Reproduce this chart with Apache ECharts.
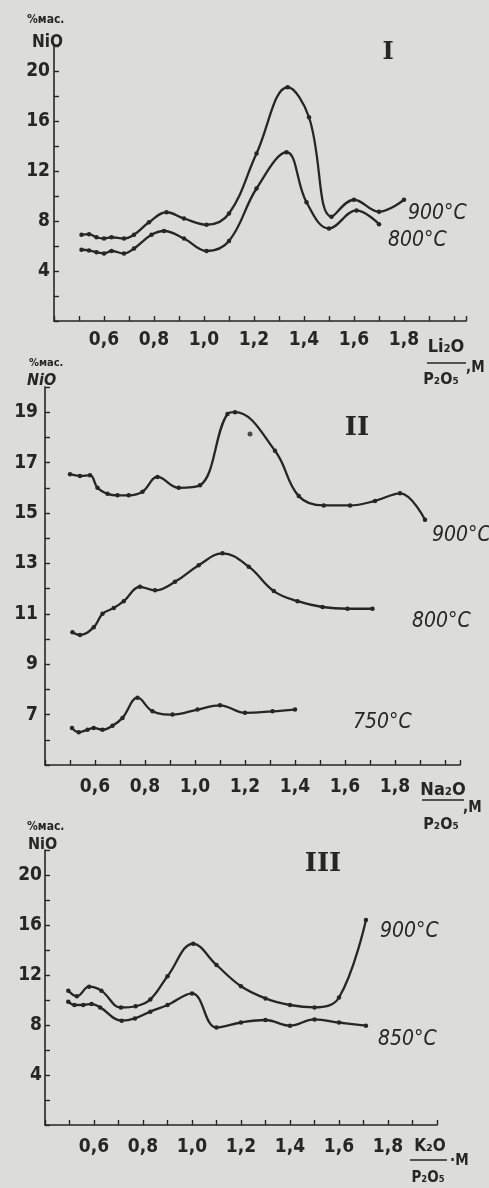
<!DOCTYPE html>
<html><head><meta charset="utf-8">
<script src="https://cdn.jsdelivr.net/npm/echarts@6/dist/echarts.min.js"></script>
<style>html,body{margin:0;padding:0;background:#dcdcda}#c{width:489px;height:1188px}</style>
</head><body><div id="c"></div>
<script>
// ---- data (x = Me2O/P2O5 molar ratio, y = NiO, % mass) ----
const xTickLabels = ['0,6','0,8','1,0','1,2','1,4','1,6','1,8'];
const yLabelsI = [4, 8, 12, 16, 20];
const yLabelsII = [7, 9, 11, 13, 15, 17, 19];
const yLabelsIII = [4, 8, 12, 16, 20];

// Panel I : Li2O/P2O5
const li900 = [[0.51,6.9],[0.54,6.95],[0.57,6.7],[0.60,6.6],[0.63,6.7],[0.68,6.6],[0.72,6.9],[0.78,7.9],[0.85,8.7],[0.92,8.2],[1.01,7.7],[1.10,8.6],[1.21,13.4],[1.335,18.7],[1.42,16.3],[1.51,8.35],[1.60,9.7],[1.70,8.75],[1.80,9.7]];
const li800 = [[0.51,5.7],[0.54,5.65],[0.57,5.5],[0.60,5.4],[0.63,5.6],[0.68,5.4],[0.72,5.8],[0.79,6.9],[0.84,7.2],[0.92,6.6],[1.01,5.6],[1.10,6.4],[1.21,10.6],[1.33,13.5],[1.41,9.5],[1.50,7.4],[1.61,8.85],[1.70,7.75]];

// Panel II : Na2O/P2O5
const na900 = [[0.50,16.54],[0.54,16.47],[0.58,16.5],[0.61,16.0],[0.65,15.76],[0.69,15.7],[0.735,15.7],[0.79,15.84],[0.85,16.43],[0.935,16.0],[1.02,16.1],[1.13,18.93],[1.16,19.0],[1.32,17.47],[1.415,15.67],[1.515,15.3],[1.62,15.3],[1.72,15.48],[1.82,15.78],[1.92,14.73]];
const na900Extra = [[1.22,18.13]];
const na800 = [[0.51,10.27],[0.54,10.16],[0.595,10.47],[0.63,11.0],[0.675,11.23],[0.715,11.5],[0.78,12.07],[0.84,11.93],[0.92,12.27],[1.015,12.93],[1.11,13.4],[1.215,12.87],[1.315,11.9],[1.41,11.5],[1.51,11.27],[1.61,11.2],[1.71,11.2]];
const na750 = [[0.508,6.47],[0.535,6.3],[0.57,6.4],[0.595,6.47],[0.63,6.4],[0.67,6.56],[0.71,6.87],[0.77,7.67],[0.83,7.13],[0.91,7.0],[1.01,7.2],[1.10,7.37],[1.20,7.07],[1.31,7.13],[1.40,7.2]];

// Panel III : K2O/P2O5
const k900 = [[0.495,10.75],[0.53,10.3],[0.58,11.07],[0.63,10.75],[0.71,9.4],[0.77,9.5],[0.83,10.05],[0.90,11.9],[1.005,14.5],[1.10,12.8],[1.20,11.1],[1.30,10.13],[1.40,9.6],[1.50,9.41],[1.60,10.2],[1.71,16.4]];
const k850 = [[0.495,9.87],[0.52,9.6],[0.556,9.6],[0.59,9.68],[0.625,9.41],[0.713,8.35],[0.767,8.53],[0.83,9.07],[0.90,9.6],[1.0,10.53],[1.10,7.8],[1.20,8.2],[1.30,8.4],[1.40,7.95],[1.50,8.45],[1.60,8.2],[1.71,7.95]];

// ---- styling ----
const INK = '#262626';
const NUMFONT = '"DejaVu Sans Condensed","Liberation Sans Narrow","DejaVu Sans",sans-serif';
const axisLine = {show: true, lineStyle: {color: INK, width: 1.6}};
const axisTick = {show: true, inside: true, length: 5, lineStyle: {color: INK, width: 1.4}};

function xFmt(v) {
  const k = Math.round(v * 10);
  if (k % 2 === 0 && k >= 6 && k <= 18) return xTickLabels[(k - 6) / 2];
  return '';
}
function yFmt(list) {
  return v => (list.indexOf(Math.round(v)) >= 0 && Math.abs(v - Math.round(v)) < 1e-6) ? String(Math.round(v)) : '';
}
function xAxis(gi, max, margin) {
  return {type: 'value', gridIndex: gi, min: 0.4, max: max, interval: 0.1,
    axisLine, axisTick, splitLine: {show: false},
    axisLabel: {interval: 0, formatter: xFmt, margin: margin, color: INK,
      fontFamily: NUMFONT, fontSize: 19, fontWeight: 'bold'}};
}
function yAxis(gi, min, max, interval, list, margin) {
  return {type: 'value', gridIndex: gi, min, max, interval,
    axisLine, axisTick, splitLine: {show: false},
    axisLabel: {interval: 0, formatter: yFmt(list), margin: margin, color: INK,
      fontFamily: NUMFONT, fontSize: 19, fontWeight: 'bold'}};
}
function line(data, gi) {
  return {type: 'line', xAxisIndex: gi, yAxisIndex: gi, data, smooth: 0.4,
    symbol: 'circle', symbolSize: 4.5, showSymbol: true,
    lineStyle: {color: INK, width: 2.3}, itemStyle: {color: INK}, silent: true};
}
function txt(text, x, y, size, opts) {
  opts = opts || {};
  return {type: 'text', x, y, silent: true, style: {text, fill: INK,
    font: (opts.style || '') + ' ' + (opts.weight || 'bold') + ' ' + size + 'px ' + (opts.family || NUMFONT),
    textAlign: opts.align || 'left', textVerticalAlign: 'middle'}};
}
function bar(x1, x2, y) {
  return {type: 'line', silent: true, shape: {x1, y1: y, x2, y2: y}, style: {stroke: INK, lineWidth: 1.6}};
}
const SERIF = '"DejaVu Serif","Liberation Serif",serif';
const LBL = {style: 'italic', weight: 'normal'};

const chart = echarts.init(document.getElementById('c'), null, {renderer: 'canvas'});
chart.setOption({
  backgroundColor: '#dcdcda',
  animation: false,
  grid: [
    {left: 54, top: 46, width: 412, height: 275},
    {left: 45, top: 387, width: 415, height: 378},
    {left: 45, top: 850, width: 392, height: 275}
  ],
  xAxis: [xAxis(0, 2.048, 10), xAxis(1, 2.06, 13), xAxis(2, 2.0, 13)],
  yAxis: [yAxis(0, 0, 22, 2, yLabelsI, 4), yAxis(1, 5, 20, 1, yLabelsII, 7), yAxis(2, 0, 22, 2, yLabelsIII, 3)],
  series: [
    line(li900, 0), line(li800, 0),
    line(na900, 1), line(na800, 1), line(na750, 1),
    {type: 'scatter', xAxisIndex: 1, yAxisIndex: 1, data: na900Extra, symbolSize: 5, itemStyle: {color: INK}, silent: true},
    line(k900, 2), line(k850, 2)
  ],
  graphic: [
    // panel I
    txt('%мас.', 27, 20, 12), txt('NiO', 32, 43, 17),
    txt('I', 388, 53, 24, {family: SERIF, align: 'center'}),
    txt('900°C', 408, 214, 21, LBL),
    txt('800°C', 388, 241, 21, LBL),
    txt('Li₂O', 446, 347, 18, {align: 'center'}), bar(427, 466, 363),
    txt('P₂O₅', 441, 380, 16, {align: 'center'}), txt(',M', 466, 368, 15),
    // panel II
    txt('%мас.', 29, 363, 11), txt('NiO', 27, 381, 16, {style: 'italic'}),
    txt('II', 357, 428, 26, {family: SERIF, align: 'center'}),
    txt('900°C', 432, 536, 21, LBL),
    txt('800°C', 412, 622, 21, LBL),
    txt('750°C', 353, 723, 21, LBL),
    txt('Na₂O', 443, 790, 18, {align: 'center'}), bar(422, 464, 800),
    txt('P₂O₅', 441, 825, 16, {align: 'center'}), txt(',M', 463, 808, 15),
    // panel III
    txt('%мас.', 27, 827, 12), txt('NiO', 28, 845, 16),
    txt('III', 323, 864, 26, {family: SERIF, align: 'center'}),
    txt('900°C', 380, 932, 21, LBL),
    txt('850°C', 378, 1040, 21, LBL),
    txt('K₂O', 430, 1147, 17, {align: 'center'}), bar(410, 447, 1160),
    txt('P₂O₅', 428, 1178, 15, {align: 'center'}), txt('·M', 450, 1161, 15)
  ]
});
</script></body></html>
